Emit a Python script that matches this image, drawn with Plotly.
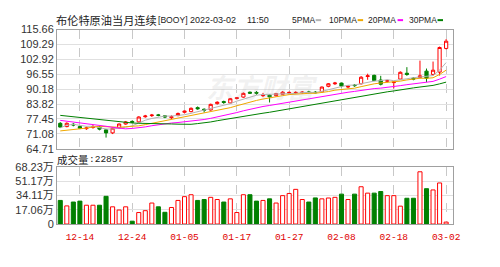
import plotly.graph_objects as go
import pandas as pd

# ---------------- data ----------------
dates = [d.strftime("%m-%d") for d in pd.bdate_range("2021-12-09", "2022-03-02")]

opens = [75.6, 74.2, 75.2, 74.2, 73.3, 73.8, 73.9, 72.8, 71.5, 73.6,
         75.3, 76.4, 76.2, 78.4, 78.9, 79.2, 78.8, 78.0, 78.9, 80.3,
         80.6, 82.3, 81.6, 81.3, 84.0, 84.9, 84.3, 86.2, 86.8, 88.9,
         88.8, 87.4, 87.6, 87.4, 88.0, 88.5, 88.6, 88.7, 89.0, 88.9,
         89.0, 91.4, 92.5, 92.8, 91.1, 91.9, 92.5, 95.6, 96.1, 94.1,
         93.6, 93.0, 94.5, 97.0, 94.9, 95.2, 97.9, 96.5, 97.5, 107.6]
highs = [76.1, 76.0, 75.7, 74.6, 74.2, 74.9, 74.4, 73.2, 73.8, 75.5,
         76.6, 76.8, 78.6, 79.2, 79.6, 79.6, 79.0, 79.0, 80.2, 81.0,
         82.4, 82.8, 82.0, 84.0, 85.0, 85.3, 86.4, 86.8, 88.8, 89.2,
         89.4, 88.6, 88.0, 88.6, 89.4, 89.2, 89.3, 89.4, 89.5, 89.4,
         91.3, 92.8, 93.3, 93.0, 91.8, 92.4, 95.8, 96.8, 96.4, 95.9,
         94.2, 93.6, 97.8, 99.6, 95.3, 102.4, 99.0, 102.0, 108.4, 111.6]
lows = [73.6, 73.9, 74.3, 73.1, 72.8, 73.3, 72.6, 69.5, 71.0, 73.3,
        75.0, 75.8, 75.9, 78.0, 78.3, 78.6, 77.8, 77.4, 78.6, 79.8,
        80.3, 81.4, 80.2, 81.0, 83.6, 83.9, 84.0, 85.8, 86.5, 88.2,
        87.8, 86.8, 84.5, 87.0, 87.6, 88.0, 88.1, 88.2, 88.3, 88.4,
        88.8, 91.0, 92.0, 91.0, 90.6, 91.2, 92.2, 94.2, 93.6, 91.8,
        93.1, 90.5, 94.2, 95.9, 94.0, 94.8, 93.2, 96.0, 96.0, 107.2]
closes = [74.0, 75.6, 74.9, 73.5, 73.6, 74.1, 73.1, 71.5, 73.5, 75.3,
          76.2, 76.1, 78.3, 78.7, 79.1, 79.0, 78.3, 78.4, 79.8, 80.8,
          82.0, 81.8, 81.2, 83.7, 84.6, 84.5, 86.1, 86.5, 88.4, 88.5,
          88.5, 87.7, 86.9, 88.3, 88.9, 88.8, 88.8, 88.9, 88.8, 88.7,
          91.1, 92.5, 92.8, 91.5, 91.4, 91.7, 95.3, 95.9, 93.9, 92.3,
          93.8, 93.2, 97.4, 96.5, 94.5, 95.9, 94.9, 98.3, 108.0, 110.7]
# volume in 万 (10k)
volumes = [28.1, 21.6, 26.2, 27.3, 22.4, 22.4, 22.4, 33.0, 20.5, 16.7,
           20.5, 3.4, 13.7, 15.9, 25.0, 20.5, 14.0, 19.7, 28.1, 32.6,
           34.9, 28.1, 29.2, 31.8, 29.2, 26.2, 30.0, 13.7, 34.9, 34.9,
           27.3, 28.1, 30.0, 25.0, 33.8, 36.4, 41.3, 29.2, 26.2, 31.1,
           30.0, 31.0, 31.8, 35.6, 29.2, 35.6, 44.4, 36.8, 36.8, 38.7,
           33.8, 33.8, 21.3, 30.7, 30.7, 62.2, 42.1, 40.6, 48.9, 2.29]
# closes of the 29 sessions before the first visible one (for moving averages)
history_closes = [84.38, 84.71, 84.72, 81.99, 80.54, 82.74, 83.43, 84.78, 82.64, 82.87,
                  82.17, 82.05, 82.43, 80.28, 81.24, 78.89, 79.70, 82.31, 82.25, 82.22,
                  72.72, 73.44, 70.57, 68.87, 69.67, 69.88, 73.08, 75.44, 75.82]

tick_labels = ["12-14", "12-24", "01-05", "01-17", "01-27", "02-08", "02-18", "03-02"]
price_ticks = [64.71, 71.08, 77.45, 83.82, 90.18, 96.55, 102.92, 109.29, 115.66]
vol_ticks = [0, 17.06, 34.11, 51.17, 68.23]
vol_tick_text = ["0", "17.06万", "34.11万", "51.17万", "68.23万"]
ma_periods = [5, 10, 20, 30]
ma_names = ["5PMA", "10PMA", "20PMA", "30PMA"]
ma_colors = ["#b4b4b4", "#f0a800", "#ff00ff", "#008000"]
last_volume_text = "22857"

# ---------------- layout constants ----------------
W, H = 500, 267
L, R = 57, 46.5
PW = W - L - R

def px2x(px):
    return (px - L) / PW

def py2y(py):
    return 1 - py / H

UP = "#ff0000"
DOWN = "#008000"

xs = list(range(len(dates)))
tick_pos = [dates.index(t) for t in tick_labels]

all_c = history_closes + closes
off = len(history_closes)

fig = go.Figure()

fig.add_trace(go.Candlestick(
    x=xs, open=opens, high=highs, low=lows, close=closes,
    increasing=dict(line=dict(color=UP, width=1), fillcolor="#ffffff"),
    decreasing=dict(line=dict(color=DOWN, width=1), fillcolor=DOWN),
    xaxis="x", yaxis="y", showlegend=False, hoverinfo="skip"))

for p, name, col in zip(ma_periods, ma_names, ma_colors):
    ma = []
    for i in range(len(closes)):
        seg = all_c[off + i - p + 1: off + i + 1]
        ma.append(sum(seg) / len(seg))
    fig.add_trace(go.Scatter(x=xs, y=ma, mode="lines", name=name,
                             line=dict(color=col, width=1),
                             xaxis="x", yaxis="y", showlegend=False, hoverinfo="skip"))

up_flags = [c >= o for o, c in zip(opens, closes)]
fig.add_trace(go.Bar(
    x=xs, y=volumes, width=0.62,
    marker=dict(color=["#ffffff" if u else DOWN for u in up_flags],
                line=dict(color=[UP if u else DOWN for u in up_flags], width=1)),
    xaxis="x2", yaxis="y2", showlegend=False, hoverinfo="skip"))

xr = [-0.5, len(dates) + 0.05]
frame = "#a0a0a0"
tickfont = dict(family="Liberation Sans, Arial", size=11, color="#333333")

fig.update_layout(
    width=W, height=H,
    margin=dict(l=L, r=R, t=0, b=0, pad=0),
    paper_bgcolor="white", plot_bgcolor="white",
    showlegend=False,
    xaxis=dict(domain=[0, 1], range=xr, tickvals=tick_pos, showticklabels=False,
               ticks="", showgrid=True, gridcolor="#c8c8c8", griddash="dash", gridwidth=1,
               showline=True, mirror=True, linecolor=frame, linewidth=1,
               zeroline=False, rangeslider=dict(visible=False), anchor="y"),
    yaxis=dict(domain=[py2y(149.5), py2y(24.7)], range=[price_ticks[0], price_ticks[-1]],
               tickvals=price_ticks, ticktext=[f"{v:.2f}" for v in price_ticks],
               tickfont=tickfont, showgrid=True, gridcolor="#e0e0e0", gridwidth=1,
               showline=True, mirror=True, linecolor=frame, linewidth=1,
               zeroline=False, ticks="", anchor="x"),
    xaxis2=dict(domain=[0, 1], range=xr, tickvals=tick_pos, ticktext=tick_labels,
                tickfont=dict(family="Liberation Mono, DejaVu Sans Mono", size=9.5, color="#e00000"),
                ticks="", ticklabelstandoff=4,
                showgrid=True, gridcolor="#c8c8c8", griddash="dash", gridwidth=1,
                showline=True, mirror=True, linecolor=frame, linewidth=1,
                zeroline=False, anchor="y2"),
    yaxis2=dict(domain=[py2y(228.3), py2y(168.3)], range=[0, vol_ticks[-1]],
                tickvals=vol_ticks, ticktext=vol_tick_text,
                tickfont=dict(family="Liberation Sans, Noto Sans CJK SC", size=11, color="#333333"),
                showgrid=True, gridcolor="#e0e0e0", gridwidth=1,
                showline=True, mirror=True, linecolor=frame, linewidth=1,
                zeroline=False, ticks="", anchor="x2"),
    bargap=0.35,
)

ann = []
def text(px, py, s, size, family, color="#222222"):
    ann.append(dict(x=px2x(px), y=py2y(py), xref="paper", yref="paper", text=s,
                    showarrow=False, xanchor="left", yanchor="middle", borderpad=0,
                    font=dict(size=size, family=family, color=color)))

cjk = "Noto Sans CJK SC"
sans = "Liberation Sans, Arial"
text(55, 14.5, "布伦特原油当月连续", 11.2, cjk)
text(157, 14.5, "[BOOY]", 8.6, sans)
text(189, 14.5, "2022-03-02", 9, sans)
text(246, 14.5, "11:50", 9, sans)

legend_x = [291, 328, 367, 408]
dash_x = [316, 358, 398, 438]
shapes = []
for name, col, lx, dx in zip(ma_names, ma_colors, legend_x, dash_x):
    text(lx, 14.5, name, 8.5, sans)
    shapes.append(dict(type="line", xref="paper", yref="paper",
                       x0=px2x(dx), x1=px2x(dx + 5.5), y0=py2y(14.8), y1=py2y(14.8),
                       line=dict(color=col, width=2)))

text(56, 160.7, "成交量", 10.5, cjk)
text(88, 160.7, ":" + last_volume_text, 9.5, "Liberation Mono, DejaVu Sans Mono")

# watermark
ann.append(dict(x=px2x(262), y=py2y(84), xref="paper", yref="paper", text="<i><b>东方财富</b></i>",
                showarrow=False, xanchor="center", yanchor="middle",
                font=dict(size=27, family=cjk, color="rgba(170,170,170,0.16)")))

fig.update_layout(annotations=ann, shapes=shapes)
fig.write_html("out.html")
